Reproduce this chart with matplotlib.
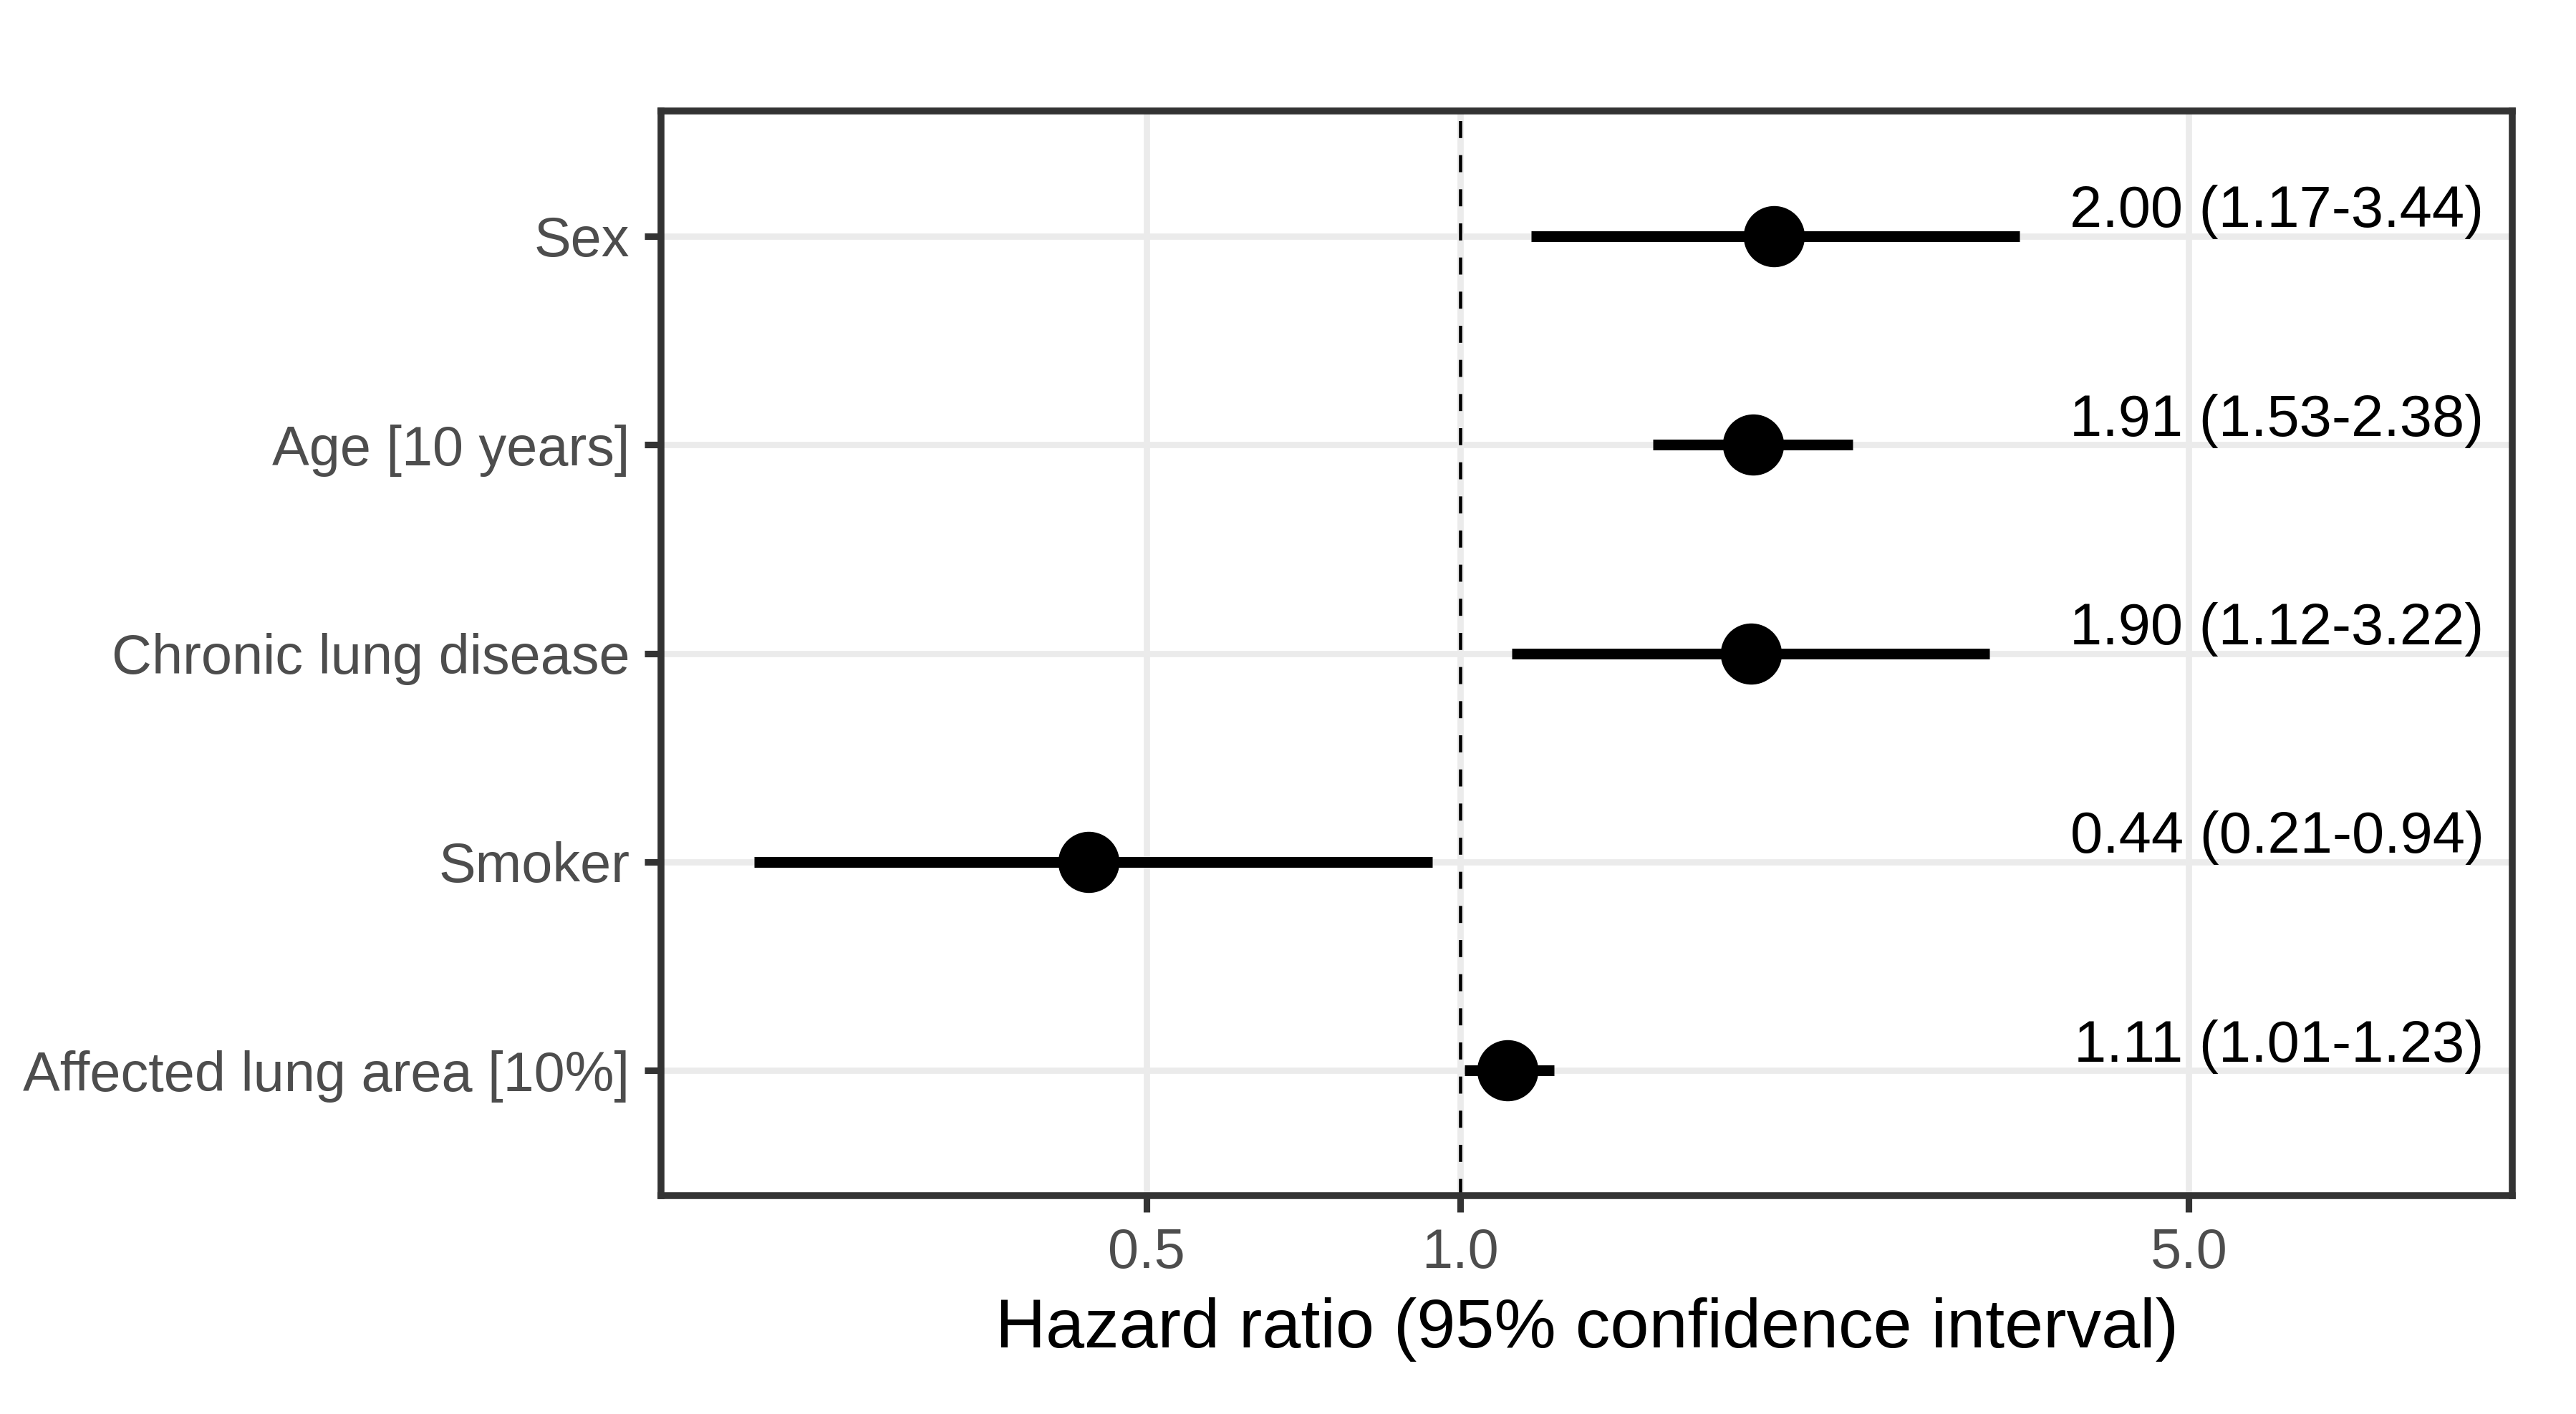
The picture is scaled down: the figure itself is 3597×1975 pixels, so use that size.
import matplotlib
matplotlib.use('Agg')
import matplotlib.pyplot as plt

# data from the forest plot
variables = ['Sex', 'Age [10 years]', 'Chronic lung disease', 'Smoker', 'Affected lung area [10%]']
hazard_ratio = [2.00, 1.91, 1.90, 0.44, 1.11]
ci_lower = [1.17, 1.53, 1.12, 0.21, 1.01]
ci_upper = [3.44, 2.38, 3.22, 0.94, 1.23]
x_ticks = [0.5, 1.0, 5.0]
x_tick_labels = ['0.5', '1.0', '5.0']

plt.rcParams['font.family'] = ['Liberation Sans', 'DejaVu Sans']

fig = plt.figure(figsize=(3597 / 300, 1975 / 300), dpi=300)
ax = fig.add_axes([0.2566, 0.1544, 0.9753 - 0.2566, 0.9215 - 0.1544])

rows = list(range(1, len(variables) + 1))

# grid lines (ggplot theme_bw look)
for r in rows:
    ax.axhline(r, color='#EBEBEB', lw=2.1, zorder=0)
for t in x_ticks:
    ax.axvline(t, color='#EBEBEB', lw=2.1, zorder=0)

# reference line at HR = 1
ax.axvline(1.0, color='black', lw=1.1, linestyle=(0, (5.2, 5.2)), zorder=1)

# confidence intervals and point estimates
ax.hlines(rows, ci_lower, ci_upper, color='black', lw=3.6, zorder=2, capstyle='butt')
ax.plot(hazard_ratio, rows, 'o', color='black', markersize=19.5, zorder=3)

# text with HR and CI
for r, h, lo, hi in zip(rows, hazard_ratio, ci_lower, ci_upper):
    ax.annotate(f'{h:.2f} ({lo:.2f}-{hi:.2f})', xy=(9.6, r), xytext=(0, 3),
                textcoords='offset points', ha='right', va='baseline',
                fontsize=19.5, color='black', zorder=4)

ax.set_xscale('log')
ax.set_xlim(0.171, 10.22)
ax.set_ylim(len(variables) + 0.6, 0.4)
ax.set_xticks(x_ticks)
ax.set_xticklabels(x_tick_labels)
ax.xaxis.set_minor_locator(matplotlib.ticker.NullLocator())
ax.set_yticks(rows)
ax.set_yticklabels(variables)

ax.tick_params(axis='both', which='major', length=5.5, width=2.2, color='#333333',
               labelcolor='#4D4D4D', labelsize=18.6)
ax.tick_params(axis='y', pad=5)
ax.tick_params(axis='x', pad=5)

for s in ax.spines.values():
    s.set_color('#333333')
    s.set_linewidth(2.3)
    s.set_zorder(5)

ax.set_xlabel('Hazard ratio (95% confidence interval)', fontsize=23.3, color='black', labelpad=6)

fig.savefig('out.png', dpi=300)
